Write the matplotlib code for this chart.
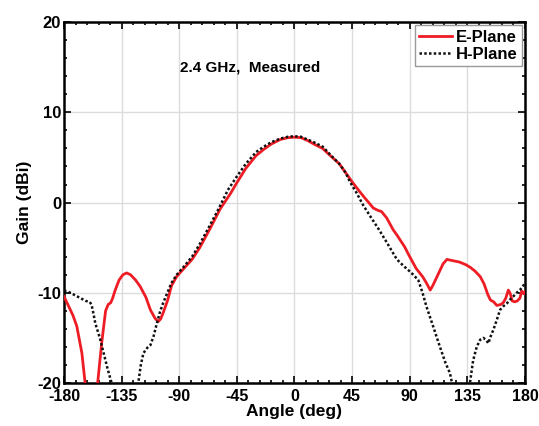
import matplotlib
matplotlib.use("Agg")
import matplotlib.pyplot as plt
from matplotlib.ticker import MultipleLocator

plt.rcParams['font.family'] = ['Liberation Sans', 'DejaVu Sans']
plt.rcParams['font.weight'] = 'bold'
plt.rcParams['axes.unicode_minus'] = False

# E-Plane (red)
e_angle = [-180, -177, -173, -170, -166, -163.5, -159, -156, -153.7, -150.5, -147.5, -145.5,
           -143.5, -142, -140, -137, -134, -131, -128, -124, -120.5, -116, -112.5, -109,
           -106.5, -104.5, -102.5, -99, -96, -92, -87, -80, -74, -66, -58, -50, -45, -38,
           -30, -24, -18, -11, -5, 0, 5, 10, 15, 22, 28, 35, 40, 45, 51, 55, 58, 61.5, 65,
           68, 72, 77, 80, 86, 90, 95, 100, 103, 106, 108, 112, 116, 119, 124, 129, 134,
           137.5, 141, 145, 148, 151, 153, 155.5, 158, 161, 163, 165, 167, 168.5, 170, 172,
           174, 176, 177.5, 179, 180]
e_gain = [-10.4, -11.3, -12.5, -13.7, -16.7, -20.0, -25, -24, -20.0, -15.5, -12.0, -11.3,
          -11.1, -10.6, -9.7, -8.6, -8.0, -7.8, -8.0, -8.6, -9.3, -10.5, -11.9, -12.8,
          -13.2, -12.9, -12.2, -10.8, -9.2, -8.2, -7.4, -6.3, -5.0, -2.9, -0.7, 1.0, 2.2, 3.8,
          5.2, 5.9, 6.5, 7.0, 7.2, 7.25, 7.2, 6.9, 6.5, 6.0, 5.2, 4.3, 3.3, 2.3, 1.2, 0.5, 0.0, -0.6, -0.85,
          -1.0, -1.7, -3.0, -3.6, -4.9, -6.0, -7.3, -8.2, -8.9, -9.7, -9.2, -8.0, -6.8, -6.3, -6.45, -6.6, -6.9,
          -7.2, -7.6, -8.2, -9.0, -10.2, -10.8, -11.0, -11.4, -11.3, -11.1, -10.6, -9.7, -10.1, -10.9, -11.0,
          -10.9, -10.6, -9.8, -10.1, -9.9]

# H-Plane (black dotted)
h_angle = [-180, -178, -175, -171, -167, -163, -160, -158.5, -157, -155.5, -152, -149, -146,
           -142.8, -138, -130, -124, -122, -120, -118, -115, -112.5, -110, -107.5, -105,
           -102.5, -99, -96, -92, -87, -80, -74, -66, -60, -52, -45, -38, -30, -24, -18, -11,
           -5, 0, 5, 10, 15, 22, 28, 35, 40, 43.3, 48, 53.7, 60, 66, 72, 77, 80, 85, 89, 92.8,
           96.7, 100, 103, 108, 113.6, 118, 121.4, 123, 128, 134, 137, 139.5, 142.3, 145,
           147.5, 149.5, 151.4, 153, 155.3, 158, 160.5, 163, 165.7, 168, 170.9, 173.5, 176,
           178.7, 180]
h_gain = [-9.8, -9.8, -10.0, -10.3, -10.6, -10.9, -11.0, -11.3, -12.3, -13.4, -15.0, -16.7, -18.4,
          -20.0, -23, -25, -22, -20.0, -18.0, -16.7, -16.1, -15.8, -14.8, -13.4, -12.1,
          -11.1, -9.9, -8.9, -8.0, -7.2, -6.0, -4.6, -2.5, -0.9, 1.4, 2.9, 4.3, 5.6, 6.2, 6.7, 7.1,
          7.3, 7.35, 7.3, 7.0, 6.7, 6.2, 5.3, 4.3, 3.3, 2.3, 1.2, -0.3, -1.7, -3.0, -4.4, -5.6,
          -6.3, -7.0, -7.5, -8.0, -8.6, -10.0, -11.5, -13.6, -16.0, -17.8, -18.9, -20.0, -24,
          -23, -20.0, -17.5, -16.0, -15.2, -15.0, -15.2, -15.6, -14.9, -14.1, -13.0, -11.9,
          -11.5, -11.2, -10.8, -10.4, -10.0, -9.7, -9.2, -8.9]

x_ticks = [-180, -135, -90, -45, 0, 45, 90, 135, 180]
y_ticks = [-20, -10, 0, 10, 20]

fig = plt.figure(figsize=(5.39, 4.26), dpi=100)
ax = fig.add_axes([0.1187, 0.1009, 0.8553, 0.8471])

ax.plot(e_angle, e_gain, color='#ee1c24', lw=2.0, label='E-Plane', zorder=3)
ax.plot(h_angle, h_gain, color='#111111', lw=1.8, ls=(0, (1, 0.9)), label='H-Plane', zorder=4)

ax.set_xlim(-180, 180)
ax.set_ylim(-20, 20)
ax.set_xticks(x_ticks)
ax.set_yticks(y_ticks)
ax.xaxis.set_minor_locator(MultipleLocator(9))
ax.yaxis.set_minor_locator(MultipleLocator(2))
ax.tick_params(which='both', direction='in', top=True, right=True, width=1.2)
ax.tick_params(which='major', length=5)
ax.tick_params(axis='x', which='major', pad=4.5, labelsize=11.5)
ax.tick_params(axis='y', which='major', pad=2, labelsize=12)
ax.tick_params(which='minor', length=2.5)
for lbl in ax.get_xticklabels() + ax.get_yticklabels():
    lbl.set_fontweight('bold')
ax.grid(True, which='major', color='#dcdcdc', lw=1.0)
ax.set_axisbelow(True)
for sp in ax.spines.values():
    sp.set_linewidth(1.8)

ax.set_xlabel('Angle (deg)', fontsize=12.5, fontweight='bold', labelpad=0)
ax.set_ylabel('Gain (dBi)', fontsize=12.5, fontweight='bold', labelpad=4)

ax.text(-35, 15.0, '2.4 GHz,  Measured', fontsize=11, fontweight='bold',
        ha='center', va='center')

leg = ax.legend(loc='upper right', handlelength=2.0, handletextpad=0.2,
                borderpad=0.25, labelspacing=0.15, fancybox=False, framealpha=1,
                borderaxespad=0.2, prop={'weight': 'bold', 'size': 12})
leg.get_frame().set_edgecolor('#999999')
leg.get_frame().set_linewidth(1.0)

fig.savefig('out.png', dpi=100)
